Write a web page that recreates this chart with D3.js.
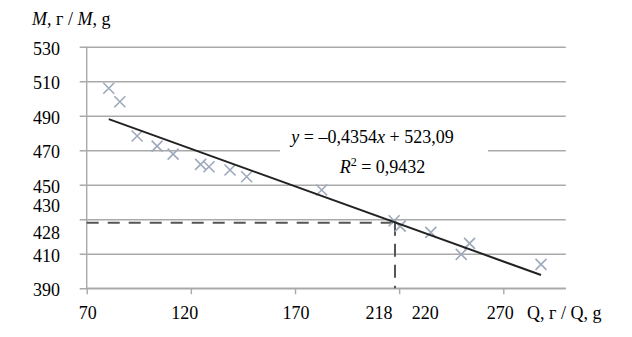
<!DOCTYPE html>
<html>
<head>
<meta charset="utf-8">
<script src="https://cdn.jsdelivr.net/npm/d3@7"></script>
<style>
  html, body { margin: 0; padding: 0; background: #fff; }
  svg { display: block; }
  text { font-family: "Liberation Serif", "Times New Roman", serif; fill: #000; }
</style>
</head>
<body>
<svg id="chart" width="632" height="337"></svg>
<script>
// ---- data ----
const qValues = [80.6, 85.9, 94.2, 103.8, 111.5, 124.7, 128.7, 138.8, 146.8, 182.8, 217.6, 220.5, 235.2, 253.8, 249.8, 288.1];
const mValues = [505.9, 498.1, 478.2, 472.4, 467.7, 461.8, 460.4, 458.5, 454.6, 446.9, 429.1, 426.0, 422.4, 416.0, 409.6, 403.8];
const trendSlope = -0.4354;
const trendIntercept = 523.09;
const markQ = 218;
const markM = 428;
const yGridValues = [390, 410, 430, 450, 470, 490, 510, 530];
const yTickLabels = ["390", "410", "430", "428", "450", "470", "490", "510", "530"];
const yTickLabelValues = [390, 410, 430, 428, 450, 470, 490, 510, 530];
const xTickValues = [70, 120, 170, 220, 270];
const xTickLabels = ["70", "120", "170", "218", "220", "270"];
const xTickLabelValues = [70, 120, 170, 218, 220, 270];
const equationText = ["y", " = –0,4354", "x", " + 523,09"];
const r2Text = "0,9432";
const xAxisTitle = "Q, г / Q, g";
const yAxisTitle = ["M", ", г / ", "M", ", g"];

// ---- layout ----
const svg = d3.select("#chart");
const mLeft = 86.7, mRight = 565.8, mTop = 46.7, mBottom = 288.2;
const x = d3.scaleLinear().domain([70, 300]).range([mLeft, mRight]);
const y = d3.scaleLinear().domain([390, 530]).range([mBottom, mTop]);
const gridColor = "#a9a9a9";

svg.append("rect").attr("width", 632).attr("height", 337).attr("fill", "#fff");

// horizontal gridlines (extend left as ticks)
const yAxis = d3.axisLeft(y).tickValues(yGridValues).tickSize(-(mRight - mLeft)).tickFormat("");
const gy = svg.append("g").attr("transform", `translate(${mLeft},0)`).call(yAxis);
gy.select(".domain").remove();
gy.selectAll(".tick line").attr("stroke", gridColor).attr("stroke-width", 1.4).attr("x1", -7);

// y axis line
svg.append("line").attr("x1", mLeft).attr("x2", mLeft).attr("y1", y(530)).attr("y2", mBottom)
  .attr("stroke", gridColor).attr("stroke-width", 1.4);

// x axis
const xAxis = d3.axisBottom(x).tickValues(xTickValues).tickSize(6).tickFormat("");
const gx = svg.append("g").attr("transform", `translate(0,${mBottom})`).call(xAxis);
gx.select(".domain").attr("stroke", gridColor).attr("stroke-width", 1.4).attr("d", `M${mLeft},0H${mRight}`);
gx.selectAll(".tick line").attr("stroke", gridColor).attr("stroke-width", 1.4);

// y tick labels (430 / 428 nudged apart as in the original)
const yLabelDy = { "430": -13.5, "428": 10.5 };
svg.append("g").selectAll("text").data(yTickLabels).join("text")
  .attr("x", 60)
  .attr("y", (d, i) => y(yTickLabelValues[i]) + (yLabelDy[d] || 1.5))
  .attr("dy", "0.35em")
  .attr("text-anchor", "end")
  .attr("font-size", 18)
  .text(d => d);

// x tick labels (218 / 220 nudged apart as in the original)
const xLabelDx = { "120": -6, "218": -16, "220": 26, "270": -3 };
svg.append("g").selectAll("text").data(xTickLabels).join("text")
  .attr("x", (d, i) => x(xTickLabelValues[i]) + (xLabelDx[d] || 1))
  .attr("y", 319)
  .attr("text-anchor", "middle")
  .attr("font-size", 18)
  .text(d => d);

// x axis title
svg.append("text").attr("x", 527).attr("y", 319).attr("font-size", 18).text(xAxisTitle);

// y axis title
const yt = svg.append("text").attr("x", 32).attr("y", 25).attr("font-size", 18);
yAxisTitle.forEach((t, i) => yt.append("tspan").attr("font-style", i % 2 === 0 ? "italic" : "normal").text(t));

// dashed reference lines
svg.append("line").attr("x1", mLeft).attr("x2", x(markQ)).attr("y1", y(markM)).attr("y2", y(markM))
  .attr("stroke", "#555").attr("stroke-width", 2).attr("stroke-dasharray", "12,9");
svg.append("line").attr("x1", x(markQ)).attr("x2", x(markQ)).attr("y1", y(markM)).attr("y2", mBottom)
  .attr("stroke", "#555").attr("stroke-width", 2).attr("stroke-dasharray", "13,8");

// data markers (x shapes)
const s = 5.5;
svg.append("g").selectAll("path").data(qValues).join("path")
  .attr("d", (d, i) => {
    const cx = x(d), cy = y(mValues[i]);
    return `M${cx - s},${cy - s}L${cx + s},${cy + s}M${cx - s},${cy + s}L${cx + s},${cy - s}`;
  })
  .attr("stroke", "#9ea9bc").attr("stroke-width", 1.6).attr("fill", "none");

// trendline across the data range
const qMin = d3.min(qValues), qMax = d3.max(qValues);
const line = d3.line().x(d => x(d)).y(d => y(trendSlope * d + trendIntercept));
svg.append("path").datum([qMin, qMax]).attr("d", line)
  .attr("stroke", "#222").attr("stroke-width", 2).attr("fill", "none");

// equation label box
svg.append("rect").attr("x", 280).attr("y", 127).attr("width", 208).attr("height", 51).attr("fill", "#fff");
const eq = svg.append("text").attr("x", 372.5).attr("y", 143).attr("text-anchor", "middle").attr("font-size", 18);
equationText.forEach((t, i) => eq.append("tspan").attr("font-style", i % 2 === 0 ? "italic" : "normal").text(t));
const r2 = svg.append("text").attr("x", 382.5).attr("y", 173).attr("text-anchor", "middle").attr("font-size", 18);
r2.append("tspan").attr("font-style", "italic").text("R");
r2.append("tspan").attr("font-size", 12).attr("dy", -7).text("2");
r2.append("tspan").attr("dy", 7).text(" = " + r2Text);
</script>
</body>
</html>
